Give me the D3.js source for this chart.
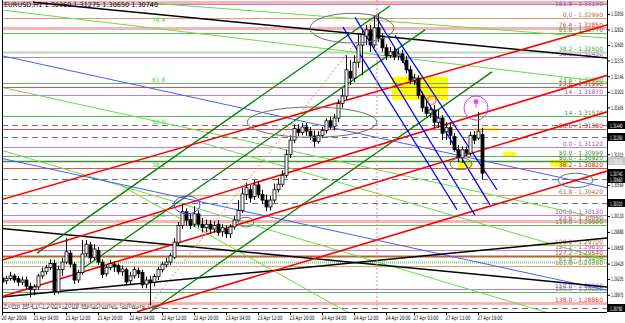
<!DOCTYPE html>
<html><head><meta charset="utf-8">
<script src="https://cdn.jsdelivr.net/npm/d3@7"></script>
<style>body{margin:0;background:#fff}svg{display:block}</style>
</head><body>
<script>
// H1 bars, 20 Apr 2009 20:00 -> 27 Apr 2009 20:00
var open = [1.2922,1.2918,1.2921,1.2925,1.2921,1.2916,1.2919,1.2910,1.2905,1.2909,1.2925,1.2931,1.2937,1.2943,1.2902,1.2934,1.2945,1.2958,1.2942,1.2919,
  1.2930,1.2957,1.2970,1.2952,1.2962,1.2945,1.2928,1.2937,1.2942,1.2940,1.2931,1.2934,1.2918,1.2925,1.2933,1.2930,1.2913,1.2919,1.2916,1.2924,
  1.2934,1.2941,1.2945,1.2952,1.2973,1.2998,1.3018,1.3007,1.3000,1.3015,1.3000,1.2995,1.3000,1.2993,1.3000,1.2989,1.2993,1.2986,1.2996,1.3006,
  1.3020,1.3043,1.3050,1.3040,1.3057,1.3043,1.3035,1.3025,1.3035,1.3050,1.3058,1.3071,1.3101,1.3122,1.3138,1.3133,1.3141,1.3135,1.3128,1.3120,
  1.3129,1.3136,1.3150,1.3142,1.3154,1.3175,1.3186,1.3222,1.3212,1.3235,1.3260,1.3273,1.3282,1.3260,1.3285,1.3270,1.3256,1.3245,1.3250,1.3244,
  1.3247,1.3238,1.3224,1.3209,1.3212,1.3187,1.3170,1.3161,1.3166,1.3148,1.3154,1.3134,1.3140,1.3127,1.3108,1.3097,1.3108,1.3103,1.3129,1.3125,
  1.3130];
var high = [1.2930,1.2925,1.2931,1.2928,1.2925,1.2924,1.2924,1.2915,1.2913,1.2928,1.2937,1.2941,1.2949,1.2948,1.2940,1.2951,1.2980,1.2962,1.2945,1.2934,
  1.2977,1.2977,1.2974,1.2971,1.2967,1.2949,1.2941,1.2948,1.2946,1.2943,1.2940,1.2937,1.2931,1.2938,1.2937,1.2934,1.2924,1.2925,1.2928,1.2938,
  1.2946,1.2951,1.2958,1.2980,1.3003,1.3029,1.3023,1.3015,1.3026,1.3020,1.3009,1.3007,1.3006,1.3004,1.3006,1.3000,1.2998,1.3000,1.3012,1.3035,
  1.3053,1.3060,1.3057,1.3064,1.3062,1.3050,1.3043,1.3041,1.3059,1.3067,1.3078,1.3108,1.3129,1.3145,1.3145,1.3147,1.3147,1.3141,1.3136,1.3135,
  1.3141,1.3154,1.3156,1.3160,1.3181,1.3197,1.3245,1.3238,1.3245,1.3275,1.3282,1.3289,1.3289,1.3302,1.3305,1.3277,1.3261,1.3257,1.3256,1.3254,
  1.3253,1.3244,1.3230,1.3218,1.3216,1.3192,1.3179,1.3173,1.3173,1.3166,1.3158,1.3148,1.3148,1.3132,1.3115,1.3113,1.3113,1.3134,1.3135,1.3163,
  1.3140];
var low = [1.2912,1.2913,1.2918,1.2915,1.2910,1.2912,1.2905,1.2894,1.2897,1.2905,1.2921,1.2927,1.2933,1.2897,1.2899,1.2925,1.2942,1.2937,1.2913,1.2915,
  1.2927,1.2954,1.2945,1.2948,1.2941,1.2922,1.2924,1.2933,1.2931,1.2927,1.2925,1.2912,1.2913,1.2921,1.2922,1.2907,1.2907,1.2882,1.2910,1.2919,
  1.2930,1.2937,1.2941,1.2949,1.2968,1.2993,1.2998,1.2993,1.2996,1.2995,1.2988,1.2989,1.2986,1.2988,1.2983,1.2982,1.2980,1.2980,1.2992,1.3003,
  1.3016,1.3035,1.3031,1.3035,1.3038,1.3029,1.3019,1.3020,1.3031,1.3046,1.3054,1.3067,1.3096,1.3118,1.3128,1.3129,1.3128,1.3122,1.3112,1.3117,
  1.3125,1.3132,1.3138,1.3136,1.3148,1.3169,1.3180,1.3202,1.3206,1.3227,1.3216,1.3260,1.3250,1.3256,1.3264,1.3250,1.3238,1.3241,1.3238,1.3238,
  1.3234,1.3219,1.3203,1.3202,1.3182,1.3163,1.3156,1.3154,1.3140,1.3140,1.3122,1.3122,1.3115,1.3105,1.3090,1.3089,1.3099,1.3099,1.3116,1.3122,
  1.3065];
var close = [1.2916,1.2921,1.2925,1.2919,1.2916,1.2919,1.2910,1.2905,1.2909,1.2925,1.2931,1.2937,1.2943,1.2902,1.2934,1.2945,1.2960,1.2942,1.2919,1.2930,
  1.2957,1.2971,1.2951,1.2964,1.2945,1.2927,1.2937,1.2943,1.2938,1.2931,1.2935,1.2916,1.2925,1.2934,1.2928,1.2912,1.2919,1.2915,1.2924,1.2934,
  1.2942,1.2945,1.2954,1.2974,1.2998,1.3018,1.3006,1.2998,1.3015,1.3000,1.2995,1.3000,1.2993,1.2998,1.2988,1.2995,1.2986,1.2996,1.3006,1.3020,
  1.3044,1.3053,1.3038,1.3057,1.3043,1.3035,1.3025,1.3035,1.3050,1.3058,1.3071,1.3101,1.3122,1.3139,1.3133,1.3141,1.3135,1.3128,1.3120,1.3129,
  1.3136,1.3150,1.3142,1.3154,1.3175,1.3186,1.3224,1.3212,1.3235,1.3260,1.3275,1.3282,1.3260,1.3285,1.3270,1.3256,1.3245,1.3250,1.3243,1.3247,
  1.3238,1.3224,1.3209,1.3212,1.3187,1.3169,1.3161,1.3166,1.3148,1.3154,1.3132,1.3140,1.3129,1.3108,1.3097,1.3108,1.3103,1.3129,1.3122,1.3135,
  1.3074];

var priceTicks = [1.33050,1.32825,1.32600,1.32375,1.32146,1.31920,1.31695,1.31470,1.31244,1.31015,
  1.30793,1.30569,1.30343,1.30118,1.29888,1.29658,1.29428,1.29205,1.28975,1.28750];
var timeLabels = ["20 Apr 2009","21 Apr 04:00","21 Apr 12:00","21 Apr 20:00","22 Apr 04:00","22 Apr 12:00",
  "22 Apr 20:00","23 Apr 04:00","23 Apr 12:00","23 Apr 20:00","24 Apr 04:00","24 Apr 12:00","24 Apr 20:00",
  "27 Apr 03:00","27 Apr 11:00","27 Apr 19:00"];
var timeLabelBars = [0,8,16,24,32,40,48,56,64,72,80,88,96,103,111,119];

// fibo levels, by colour family
var purpleLevels = [1.3319,1.3243,1.3187,1.3112,1.3013,1.2963,1.2906];
var purpleNames = ["161.8","50.0","14","0.0","100.0","127.2","150.0"];
var greenLevels = [1.3277,1.3205,1.3157,1.3099,1.2999,1.2902];
var greenNames = ["61.8","23.6","14","50.0","119.0","150.0"];
var oliveLevel = 1.3092, oliveName = "50.0";
var redLevels = [1.3199,1.3138,1.3082];
var redNames = ["23.6","80.6","38.2"];
var bandLevels = [1.3322,1.3285,1.3005,1.2886];
var bandNames = ["","76.4","23.6","138.0"];
var brownLevels = [1.3299,1.3042,1.2970,1.2939];
var brownNames = ["0.0","61.8","100.0","161.8"];
var thickBrownLevel = 1.2954, thickBrownName = "127.2";
var greyGreenLevel = 1.3250, greyGreenName = "38.2";
var dottedGreenLevel = 1.2945, dottedGreenName = "61.8";
var dashedLevels = [1.3144,1.3126,1.3066,1.3031,1.2878];

// left fibo texts
var leftFibBar = 37.5;
var leftFibPrices = [1.3292,1.3205,1.3144,1.3082,1.3009];
var leftFibNames = ["76.4","61.8","50.0","38.2","23.6"];

// trend lines: [bar1, price1, bar2, price2]
var blackLines = [[7.75,1.3322,151.25,1.3241],[-0.5,1.2994,151.25,1.2909],[-0.5,1.2894,151.25,1.2980]];
var darkGreenLines = [[8.75,1.2958,97,1.3317],[20.25,1.2936,105.75,1.3282],[37,1.2873,122.5,1.3221]];
var redLines = [[-0.5,1.3035,151.25,1.3289],[-0.5,1.2947,151.25,1.3216],[-0.5,1.2894,151.25,1.3163],[33.75,1.2873,151.25,1.3077]];
var blueSteep = [[85.25,1.3286,113.75,1.3021],[88.25,1.3300,118.25,1.3013],[93.5,1.3301,122,1.3028],[98.25,1.3274,123.75,1.3050]];
var blueFlat = [[-0.5,1.3245,151.25,1.3053],[-0.5,1.3096,151.25,1.2904]];
var limeLines = [[-0.5,1.3311,151.25,1.3206],[37,1.3321,151.25,1.3270],[-0.5,1.3199,151.25,1.3006],
  [-0.5,1.3108,151.25,1.2846],[29.5,1.3057,92,1.2854],[49.5,1.3119,151.25,1.2948]];
var pinkDotted = [[37,1.2883,94,1.3305]];
var vLineBar = 93.75;

// ellipses and rectangles: [bar1, price1, bar2, price2]
var greyEllipses = [[77,1.3306,98,1.3263],[61.25,1.3170,93.75,1.3126],[59,1.3010,63,1.2996],
  [112,1.3096,117.5,1.3079],[139,1.3074,147.75,1.3053]];
var blueEllipses = [[43,1.3041,49.5,1.3015]];
var magentaEllipses = [[115.5,1.3186,121.5,1.3151]];
var redCircles = [[106.5,1.3186,108.5,1.3174]];
var yellowRects = [[97.5,1.3214,111.5,1.3180],[118.25,1.3140,124.25,1.3136],[125.25,1.3105,128.5,1.3099],
  [137,1.3093,141.5,1.3084],[114,1.3092,117.5,1.3082]];
var arrowMark = [118.5, 1.3178];

var W = 625, H = 323, plotL = 2, plotR = 607, plotT = 0, plotB = 312;
var FONT = "Tahoma, 'DejaVu Sans', sans-serif";
var x = d3.scaleLinear().domain([0, 151.25]).range([plotL, plotR]);
var y = d3.scaleLinear().domain([1.28726, 1.33253]).range([plotB, plotT]);

var svg = d3.select("body").append("svg").attr("width", W).attr("height", H).style("font-family", FONT);
svg.append("rect").attr("width", W).attr("height", H).attr("fill", "#fff");

svg.append("clipPath").attr("id", "clip").append("rect")
  .attr("x", plotL).attr("y", plotT).attr("width", plotR - plotL).attr("height", plotB - plotT);
var g = svg.append("g").attr("clip-path", "url(#clip)");

function box(list, fill) {
  list.forEach(function (d) {
    g.append("rect").attr("x", x(d[0])).attr("y", y(d[1])).attr("width", x(d[2]) - x(d[0]))
      .attr("height", Math.max(2, y(d[3]) - y(d[1]))).attr("fill", fill);
  });
}
box(yellowRects, "#ffff00");

function hline(p, color, w, dash) {
  var yy = Math.round(y(p)) + 0.5;
  g.append("line").attr("x1", plotL).attr("x2", plotR).attr("y1", yy).attr("y2", yy)
    .attr("stroke", color).attr("stroke-width", w).attr("stroke-dasharray", dash || null);
}
function rlabel(p, name, color) {
  if (!name) return;
  g.append("text").attr("x", plotR - 4).attr("y", Math.max(6, Math.round(y(p)) - 1)).attr("text-anchor", "end")
    .attr("font-size", "6px").attr("fill", color).text(name + " - " + p.toFixed(5));
}

bandLevels.forEach(function (p, i) { hline(p, "#f7b4b4", 3); rlabel(p, bandNames[i], "#d04040"); });
purpleLevels.forEach(function (p, i) { hline(p, "#c27ed0", 1); rlabel(p, purpleNames[i], "#a050b0"); });
greenLevels.forEach(function (p, i) { hline(p, "#5cb85c", 1); rlabel(p, greenNames[i], "#3a9a3a"); });
hline(oliveLevel, "#4a8a3a", 1.5); rlabel(oliveLevel, oliveName, "#3a7a2a");
redLevels.forEach(function (p, i) { hline(p, "#e05050", 1); rlabel(p, redNames[i], "#d02020"); });
brownLevels.forEach(function (p, i) { hline(p, "#d9a070", 1); rlabel(p, brownNames[i], "#b07040"); });
hline(thickBrownLevel, "#b06a2a", 2); rlabel(thickBrownLevel, thickBrownName, "#a05a20");
hline(greyGreenLevel, "#b8d8b8", 2); rlabel(greyGreenLevel, greyGreenName, "#5a9a5a");
hline(dottedGreenLevel, "#80d080", 2, "1,1"); rlabel(dottedGreenLevel, dottedGreenName, "#40a040");
dashedLevels.forEach(function (p) { hline(p, "#707070", 1, "6,4"); });

leftFibPrices.forEach(function (p, i) {
  g.append("text").attr("x", x(leftFibBar)).attr("y", y(p) - 1).attr("font-size", "6px")
    .attr("fill", "#40d040").text(leftFibNames[i]);
});

function seg(list, color, w, dash) {
  list.forEach(function (d) {
    g.append("line").attr("x1", x(d[0])).attr("y1", y(d[1])).attr("x2", x(d[2])).attr("y2", y(d[3]))
      .attr("stroke", color).attr("stroke-width", w).attr("stroke-dasharray", dash || null);
  });
}
seg(limeLines, "#66dd44", 1);
seg(blueFlat, "#4060ff", 1);
seg(blackLines, "#000", 1.5);
seg(darkGreenLines, "#008000", 1.3);
seg(redLines, "#ff0000", 1.6);
seg(blueSteep, "#0000ff", 1.3);
seg(pinkDotted, "#f08080", 1, "2,2");
g.append("line").attr("x1", x(vLineBar)).attr("x2", x(vLineBar)).attr("y1", plotT).attr("y2", plotB)
  .attr("stroke", "#f08080").attr("stroke-dasharray", "2,2");

// candles
var bars = d3.range(open.length);
var cg = g.append("g");
cg.selectAll("line").data(bars).join("line")
  .attr("x1", function (i) { return Math.round(x(i)) + 0.5; }).attr("x2", function (i) { return Math.round(x(i)) + 0.5; })
  .attr("y1", function (i) { return y(high[i]); }).attr("y2", function (i) { return y(low[i]); })
  .attr("stroke", "#000");
cg.selectAll("rect").data(bars).join("rect")
  .attr("x", function (i) { return Math.round(x(i)) - 1; })
  .attr("width", 3)
  .attr("y", function (i) { return y(Math.max(open[i], close[i])); })
  .attr("height", function (i) { return Math.max(1, Math.abs(y(open[i]) - y(close[i]))); })
  .attr("fill", function (i) { return close[i] >= open[i] ? "#fff" : "#000"; })
  .attr("stroke", "#000").attr("stroke-width", 0.8);

function ell(list, color, w) {
  list.forEach(function (d) {
    g.append("ellipse").attr("cx", (x(d[0]) + x(d[2])) / 2).attr("cy", (y(d[1]) + y(d[3])) / 2)
      .attr("rx", (x(d[2]) - x(d[0])) / 2).attr("ry", (y(d[3]) - y(d[1])) / 2)
      .attr("fill", "none").attr("stroke", color).attr("stroke-width", w);
  });
}
ell(greyEllipses, "#707070", 1);
ell(blueEllipses, "#4040ff", 1);
ell(magentaEllipses, "#d040d0", 1);
ell(redCircles, "#ff4040", 1);
g.append("circle").attr("cx", x(arrowMark[0])).attr("cy", y(arrowMark[1])).attr("r", 2.5).attr("fill", "#ff40ff");
g.append("line").attr("x1", x(arrowMark[0])).attr("x2", x(arrowMark[0])).attr("y1", y(arrowMark[1]) + 2).attr("y2", y(arrowMark[1]) + 6)
  .attr("stroke", "#ff40ff");

// frame
svg.append("line").attr("x1", plotR + 0.5).attr("x2", plotR + 0.5).attr("y1", 0).attr("y2", plotB).attr("stroke", "#000");
svg.append("line").attr("x1", plotL).attr("x2", plotR).attr("y1", plotB + 0.5).attr("y2", plotB + 0.5).attr("stroke", "#000");
svg.append("line").attr("x1", plotL + 0.5).attr("x2", plotL + 0.5).attr("y1", 0).attr("y2", plotB).attr("stroke", "#000");

// price boxes on the axis: dashed lines, bid (last close) and the olive level
var lastClose = close[close.length - 1];
var boxPrices = dashedLevels.concat([lastClose]);
var visibleTicks = priceTicks.filter(function (t) {
  return boxPrices.concat([oliveLevel]).every(function (b) { return Math.abs(y(t) - y(b)) > 6; });
});

var ya = svg.append("g").attr("transform", "translate(" + plotR + ",0)")
  .call(d3.axisRight(y).tickValues(visibleTicks).tickSize(3).tickFormat(d3.format(".5f")));
ya.select(".domain").remove();
ya.selectAll("text").attr("font-size", "6px").attr("font-family", FONT).attr("x", 4)
  .attr("textLength", 12.5).attr("lengthAdjust", "spacingAndGlyphs");

var xa = svg.append("g").attr("transform", "translate(0," + plotB + ")")
  .call(d3.axisBottom(x).tickValues(timeLabelBars).tickSize(3).tickFormat(function (d, i) { return timeLabels[i]; }));
xa.select(".domain").remove();
xa.selectAll("text").attr("font-size", "6px").attr("font-family", FONT)
  .attr("text-anchor", "start").attr("dx", "-1").attr("y", 4).attr("dy", "0.6em")
  .attr("textLength", 25).attr("lengthAdjust", "spacingAndGlyphs");

function priceBox(p, bg, fg) {
  svg.append("rect").attr("x", plotR + 1).attr("y", Math.round(y(p)) - 4).attr("width", 17).attr("height", 8).attr("fill", bg);
  svg.append("text").attr("x", plotR + 3).attr("y", Math.round(y(p)) + 2.5).attr("font-size", "6px").attr("fill", fg)
    .attr("textLength", 12.5).attr("lengthAdjust", "spacingAndGlyphs").text(p.toFixed(5));
}
priceBox(oliveLevel, "#c8c8c8", "#fff");
boxPrices.forEach(function (p) { priceBox(p, "#000", "#fff"); });

svg.append("text").attr("x", 4).attr("y", 7).attr("font-size", "6.5px").attr("fill", "#000")
  .text("EURUSD,H1  1.30960 1.31275 1.30650 1.30740");
svg.append("text").attr("x", 4).attr("y", 308).attr("font-size", "6px").attr("fill", "#606060")
  .text("FxPro Mt4 (C) 2001-2008 MetaQuotes Software Corp.");
</script>
</body></html>
